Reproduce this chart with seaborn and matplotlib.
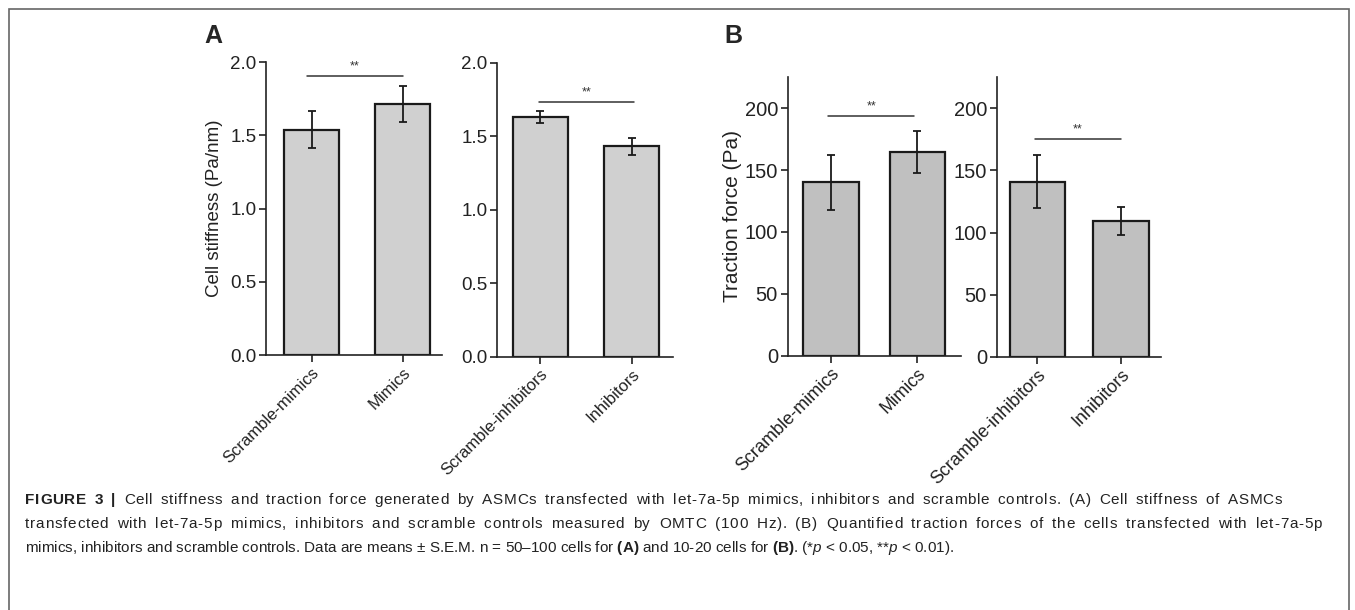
import numpy as np
import matplotlib.pyplot as plt
import seaborn as sns
from matplotlib.patches import Rectangle
from matplotlib.font_manager import FontProperties, findfont, get_font

sns.set_style('ticks')
plt.rcParams['font.family'] = ['Liberation Sans', 'DejaVu Sans']
plt.rcParams['mathtext.fontset'] = 'custom'
plt.rcParams['mathtext.rm'] = 'Liberation Sans'
plt.rcParams['mathtext.bf'] = 'Liberation Sans:bold'
plt.rcParams['mathtext.it'] = 'Liberation Sans:italic'

# data
mimic_cats = ['Scramble-mimics', 'Mimics']
inhib_cats = ['Scramble-inhibitors', 'Inhibitors']

stiff_mimic_mean = [1.54, 1.715]
stiff_mimic_sem = [0.125, 0.12]
stiff_inhib_mean = [1.63, 1.43]
stiff_inhib_sem = [0.04, 0.055]

force_mimic_mean = [140, 164.5]
force_mimic_sem = [22, 17]
force_inhib_mean = [141, 109.5]
force_inhib_sem = [21.5, 11.2]

sig_y = [1.907, 1.731, 193.5, 175.4]
stiff_ticks = [0.0, 0.5, 1.0, 1.5, 2.0]
force_ticks = [0, 50, 100, 150, 200]

W, H = 1355, 610
fig = plt.figure(figsize=(W / 100, H / 100), dpi=100)


def box(l, r, t, b):
    # pixel box -> figure fraction
    return [l / W, 1 - b / H, (r - l) / W, (b - t) / H]


def panel(rect, cats, means, sems, color, width, ylim, yticks, fmt,
          fs_tick, fs_x, xlim, sig, sig_x, ylabel=None, fs_lab=13, lpad=5):
    ax = fig.add_axes(rect)
    sns.barplot(x=cats, y=means, color=color, width=width, edgecolor='#1a1a1a',
                linewidth=1.6, saturation=1, ax=ax)
    ax.errorbar(x=np.arange(len(cats)), y=means, yerr=sems, fmt='none',
                ecolor='#1a1a1a', elinewidth=1.3, capsize=2.6, capthick=1.3)
    ax.set_ylim(*ylim)
    ax.set_xlim(*xlim)
    ax.set_yticks(yticks)
    ax.set_yticklabels([fmt.format(v) for v in yticks], fontsize=fs_tick, color='#222222')
    ax.set_xticks(range(len(cats)))
    ax.set_xticklabels(cats, rotation=45, ha='right', rotation_mode='anchor',
                       fontsize=fs_x, color='#222222')
    ax.tick_params(axis='both', length=5, width=1.2, color='#222222', pad=2)
    for s in ['top', 'right']:
        ax.spines[s].set_visible(False)
    for s in ['left', 'bottom']:
        ax.spines[s].set_linewidth(1.2)
        ax.spines[s].set_color('#222222')
    ax.set_xlabel('')
    if ylabel:
        ax.set_ylabel(ylabel, fontsize=fs_lab, color='#222222', labelpad=lpad)
    ax.plot(sig_x, [sig, sig], color='#333333', lw=1.1)
    ax.text(np.mean(sig_x), sig + (ylim[1] - ylim[0]) * 0.012, '**', ha='center',
            va='bottom', fontsize=9, color='#333333')
    return ax


panel(box(266, 441.7, 62.3, 355), mimic_cats, stiff_mimic_mean, stiff_mimic_sem,
      '#d0d0d0', 0.6, (0, 2.0), stiff_ticks, '{:.1f}', 13.5, 12, (-0.5, 1.43),
      sig_y[0], [-0.045, 1.0], 'Cell stiffness (Pa/nm)', 13.5, 5)
panel(box(497.3, 672.7, 62.7, 356.7), inhib_cats, stiff_inhib_mean, stiff_inhib_sem,
      '#d0d0d0', 0.6, (0, 2.0), stiff_ticks, '{:.1f}', 13.5, 12, (-0.47, 1.45),
      sig_y[1], [-0.01, 1.03])
panel(box(787.7, 960.7, 77.3, 355.7), mimic_cats, force_mimic_mean, force_mimic_sem,
      '#c0c0c0', 0.64, (0, 225), force_ticks, '{:d}', 14.5, 13, (-0.5, 1.5),
      sig_y[2], [-0.03, 0.96], 'Traction force (Pa)', 15, 2)
panel(box(996.7, 1161.3, 77.3, 356.7), inhib_cats, force_inhib_mean, force_inhib_sem,
      '#c0c0c0', 0.66, (0, 225), force_ticks, '{:d}', 14.5, 13, (-0.485, 1.48),
      sig_y[3], [-0.03, 1.0])

fig.text(204 / W, 1 - 36 / H, 'A', fontsize=18, fontweight='bold', va='center')
fig.text(724 / W, 1 - 36 / H, 'B', fontsize=18, fontweight='bold', va='center')

# caption: first two lines justified (letter + word spacing), last line left aligned
cap_fs = 11
cap_col = '#222222'
reg_font = get_font(findfont(FontProperties(family='Liberation Sans')))
bold_font = get_font(findfont(FontProperties(family='Liberation Sans', weight='bold')))


def advance(c, bold):
    f = bold_font if bold else reg_font
    f.set_size(cap_fs, 100)
    return f.load_char(ord(c)).linearHoriAdvance / 65536


def spread_line(segments, y_px, x0, x1):
    chars = [(c, b) for s, b in segments for c in s]
    advs = [advance(c, b) for c, b in chars]
    weights = [5.0 if c == ' ' else 1.0 for c, _ in chars[:-1]] + [0.0]
    extra = (x1 - x0 - sum(advs)) / sum(weights)
    x = x0
    for (c, b), a, w in zip(chars, advs, weights):
        if c != ' ':
            fig.text(x / W, 1 - y_px / H, c, fontsize=cap_fs, color=cap_col,
                     fontweight='bold' if b else 'normal', va='baseline')
        x += a + w * extra


line1 = [('FIGURE 3 |', True),
         (' Cell stiffness and traction force generated by ASMCs transfected with let-7a-5p '
          'mimics, inhibitors and scramble controls. (A) Cell stiffness of ASMCs', False)]
line2 = [('transfected with let-7a-5p mimics, inhibitors and scramble controls measured by '
          'OMTC (100 Hz). (B) Quantified traction forces of the cells transfected with let-7a-5p',
          False)]
line3 = (r'mimics, inhibitors and scramble controls. Data are means ± S.E.M. n = 50–100 '
         r'cells for $\mathbf{(A)}$ and 10-20 cells for $\mathbf{(B)}$. '
         r'(*$\it{p}$ < 0.05, **$\it{p}$ < 0.01).')

spread_line(line1, 504, 25, 1282)
spread_line(line2, 528, 25, 1322)
fig.text(25 / W, 1 - 552 / H, line3, fontsize=cap_fs, color=cap_col, va='baseline')

fig.patches.append(Rectangle((9 / W, -0.02), 1340 / W, 1.02 - 9 / H,
                             transform=fig.transFigure, fill=False,
                             edgecolor='#666666', lw=1.2))

fig.savefig('out.png', dpi=100)
